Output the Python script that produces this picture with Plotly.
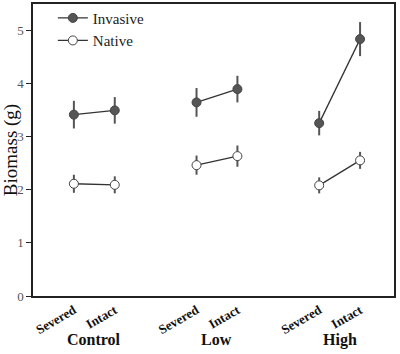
import plotly.graph_objects as go

groups = ["Control", "Low", "High"]
treatments = ["Severed", "Intact"]
x_pos = [1, 2, 4, 5, 7, 8]

invasive = [3.41, 3.49, 3.64, 3.89, 3.25, 4.83]
invasive_err = [0.26, 0.25, 0.27, 0.25, 0.23, 0.32]
native = [2.11, 2.09, 2.46, 2.63, 2.08, 2.55]
native_err = [0.17, 0.16, 0.18, 0.20, 0.15, 0.16]

FONT = "Liberation Serif"
fig = go.Figure()

def add_series(name, vals, errs, fill):
    for g in range(3):
        i0 = 2 * g
        fig.add_trace(go.Scatter(
            x=x_pos[i0:i0 + 2], y=vals[i0:i0 + 2],
            mode="lines+markers", name=name,
            legendgroup=name, showlegend=(g == 0),
            line=dict(color="#333333", width=1.3),
            marker=dict(size=9, color=fill, line=dict(color="#444444", width=1)),
            error_y=dict(type="data", array=errs[i0:i0 + 2], width=0,
                         thickness=2, color="#555555"),
        ))

add_series("Invasive", invasive, invasive_err, "#555555")
add_series("Native", native, native_err, "#ffffff")

tick_text = ["<b>%s</b>" % t for t in treatments * 3]

for i, gname in enumerate(groups):
    fig.add_annotation(x=(x_pos[2 * i] + x_pos[2 * i + 1]) / 2, y=-0.15,
                       xref="x", yref="paper", text="<b>%s</b>" % gname,
                       showarrow=False, yanchor="middle",
                       font=dict(family=FONT, size=16, color="#111111"))

fig.update_layout(
    width=400, height=354,
    margin=dict(l=33, r=6, t=2, b=58),
    plot_bgcolor="white", paper_bgcolor="white",
    font=dict(family=FONT, color="#222222"),
    showlegend=True,
    legend=dict(x=0.055, y=1.008, xanchor="left", yanchor="top",
                bgcolor="rgba(0,0,0,0)", font=dict(family=FONT, size=15, color="#222222"),
                tracegroupgap=0, itemwidth=30),
    xaxis=dict(range=[0, 8.83], tickmode="array", tickvals=x_pos, ticktext=tick_text,
               tickangle=-30, ticks="", showgrid=False, zeroline=False, automargin=False,
               showline=True, linecolor="#222222", linewidth=1.5, mirror=True,
               tickfont=dict(family=FONT, size=13, color="#111111")),
    yaxis=dict(range=[0, 5.49], tickvals=[0, 1, 2, 3, 4, 5], ticks="outside",
               ticklen=5, tickcolor="#222222", showgrid=False, zeroline=False,
               automargin=False,
               showline=True, linecolor="#222222", linewidth=1.5, mirror=True,
               tickfont=dict(family=FONT, size=13, color="#555555"),
               title=dict(text="Biomass (g)", standoff=4,
                          font=dict(family=FONT, size=19, color="#111111"))),
)

fig.write_html("out.html", config={"displayModeBar": False},
               post_script="document.body.style.margin='0';document.body.style.padding='0';")
